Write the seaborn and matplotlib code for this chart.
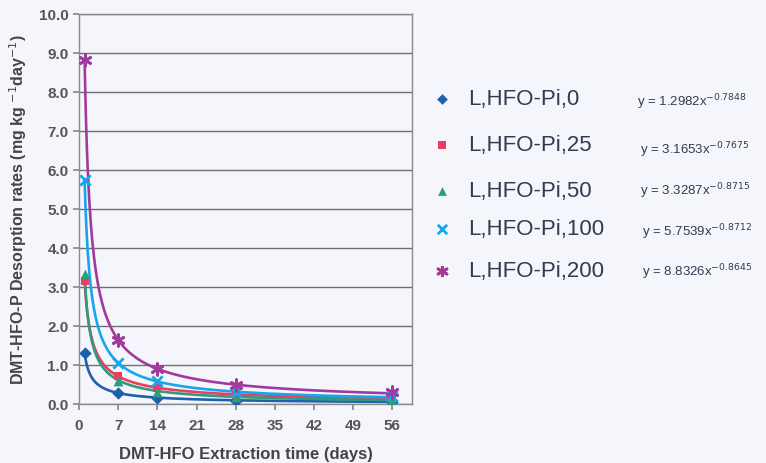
import numpy as np
import pandas as pd
import matplotlib
matplotlib.use("Agg")
import matplotlib.pyplot as plt
import seaborn as sns

sns.set_theme(style="white")
plt.rcParams['font.family'] = ['Liberation Sans', 'DejaVu Sans']

days = [1, 7, 14, 28, 56]
series = ["L,HFO-Pi,0", "L,HFO-Pi,25", "L,HFO-Pi,50", "L,HFO-Pi,100", "L,HFO-Pi,200"]
pi0 = [1.30, 0.27, 0.15, 0.08, 0.05]
pi25 = [3.15, 0.72, 0.40, 0.22, 0.14]
pi50 = [3.33, 0.60, 0.32, 0.18, 0.10]
pi100 = [5.75, 1.05, 0.58, 0.32, 0.20]
pi200 = [8.83, 1.65, 0.90, 0.50, 0.30]
fit_a = [1.2982, 3.1653, 3.3287, 5.7539, 8.8326]
fit_b = [-0.7848, -0.7675, -0.8715, -0.8712, -0.8645]
equations = ["y = 1.2982x$^{-0.7848}$", "y = 3.1653x$^{-0.7675}$", "y = 3.3287x$^{-0.8715}$",
             "y = 5.7539x$^{-0.8712}$", "y = 8.8326x$^{-0.8645}$"]
xticks = [0, 7, 14, 21, 28, 35, 42, 49, 56]
yticks = [0, 1, 2, 3, 4, 5, 6, 7, 8, 9, 10]

colors = ["#1f5fae", "#ee3b63", "#2e9c7c", "#16a6ec", "#a23a9e"]
markers = ["D", "s", "^", "x", (6, 2, 0)]
msizes = [40, 40, 50, 55, 70]
leg_sizes = [30, 30, 40, 45, 55]

values = [pi0, pi25, pi50, pi100, pi200]
pts = pd.DataFrame({
    "day": days * 5,
    "rate": sum(values, []),
    "series": np.repeat(series, len(days)),
})
xx = np.linspace(1, 56, 400)
fit = pd.DataFrame({
    "day": np.tile(xx, 5),
    "rate": np.concatenate([a * xx ** b for a, b in zip(fit_a, fit_b)]),
    "series": np.repeat(series, len(xx)),
})

bg = "#f4f6fb"
fig = plt.figure(figsize=(7.66, 4.64), dpi=100, facecolor=bg)
ax = fig.add_axes([79/766, 59/464, (412-79)/766, (405-15)/464])
ax.set_facecolor(bg)

pal = dict(zip(series, colors))
sns.lineplot(data=fit, x="day", y="rate", hue="series", palette=pal, ax=ax,
             legend=False, linewidth=1.9)
for s, m, ms in zip(series, markers, msizes):
    d = pts[pts.series == s]
    lw = 2 if m == "x" or isinstance(m, tuple) else 0
    sns.scatterplot(data=d, x="day", y="rate", color=pal[s], marker=m, s=ms,
                    ax=ax, legend=False, linewidth=lw,
                    edgecolor=pal[s] if lw == 0 else None, zorder=5)

ax.set_xlim(0, 59.5)
ax.set_ylim(0, 10)
ax.set_xticks(xticks)
ax.set_yticks(yticks)
ax.set_yticklabels([f"{v:.1f}" for v in yticks])
ax.yaxis.grid(True, color="#6e6e6e", linewidth=1.0)
ax.set_axisbelow(True)
for sp in ax.spines.values():
    sp.set_color("#8a8a8a")
    sp.set_linewidth(1.0)
ax.tick_params(axis="both", which="both", length=4, color="#8a8a8a",
               labelsize=11, labelcolor="#555555", direction="out")
ax.tick_params(axis="x", bottom=True, pad=6)
ax.tick_params(axis="y", left=True)
for lbl in ax.get_xticklabels() + ax.get_yticklabels():
    lbl.set_fontweight("bold")
ax.set_xlabel("DMT-HFO Extraction time (days)", fontsize=12, fontweight="bold",
              color="#444444", labelpad=10)
ax.set_ylabel("DMT-HFO-P Desorption rates (mg kg $^{-1}$day$^{-1}$)", fontsize=11.5,
              fontweight="bold", color="#444444", labelpad=7)

leg_y = [100, 146, 192, 230, 272]
eq_x = [637, 640, 640, 642, 642]
eq_y = [102, 150, 191, 232, 272]
for i, s in enumerate(series):
    fig.text(468/766, 1 - leg_y[i]/464, s, fontsize=16, color="#333a4e",
             va="center", ha="left")
    fig.text(eq_x[i]/766, 1 - eq_y[i]/464, equations[i], fontsize=9.5,
             color="#333a4e", va="center", ha="left")
    ax_m = fig.add_axes([442/766 - 0.01, 1 - leg_y[i]/464 - 0.01, 0.02, 0.02])
    ax_m.set_axis_off()
    m = markers[i]
    lw = 2 if m == "x" or isinstance(m, tuple) else 0
    ax_m.scatter([0], [0], marker=m, s=leg_sizes[i], color=colors[i], linewidths=lw)
    ax_m.set_xlim(-1, 1)
    ax_m.set_ylim(-1, 1)

fig.savefig("out.png", dpi=100, facecolor=bg)
